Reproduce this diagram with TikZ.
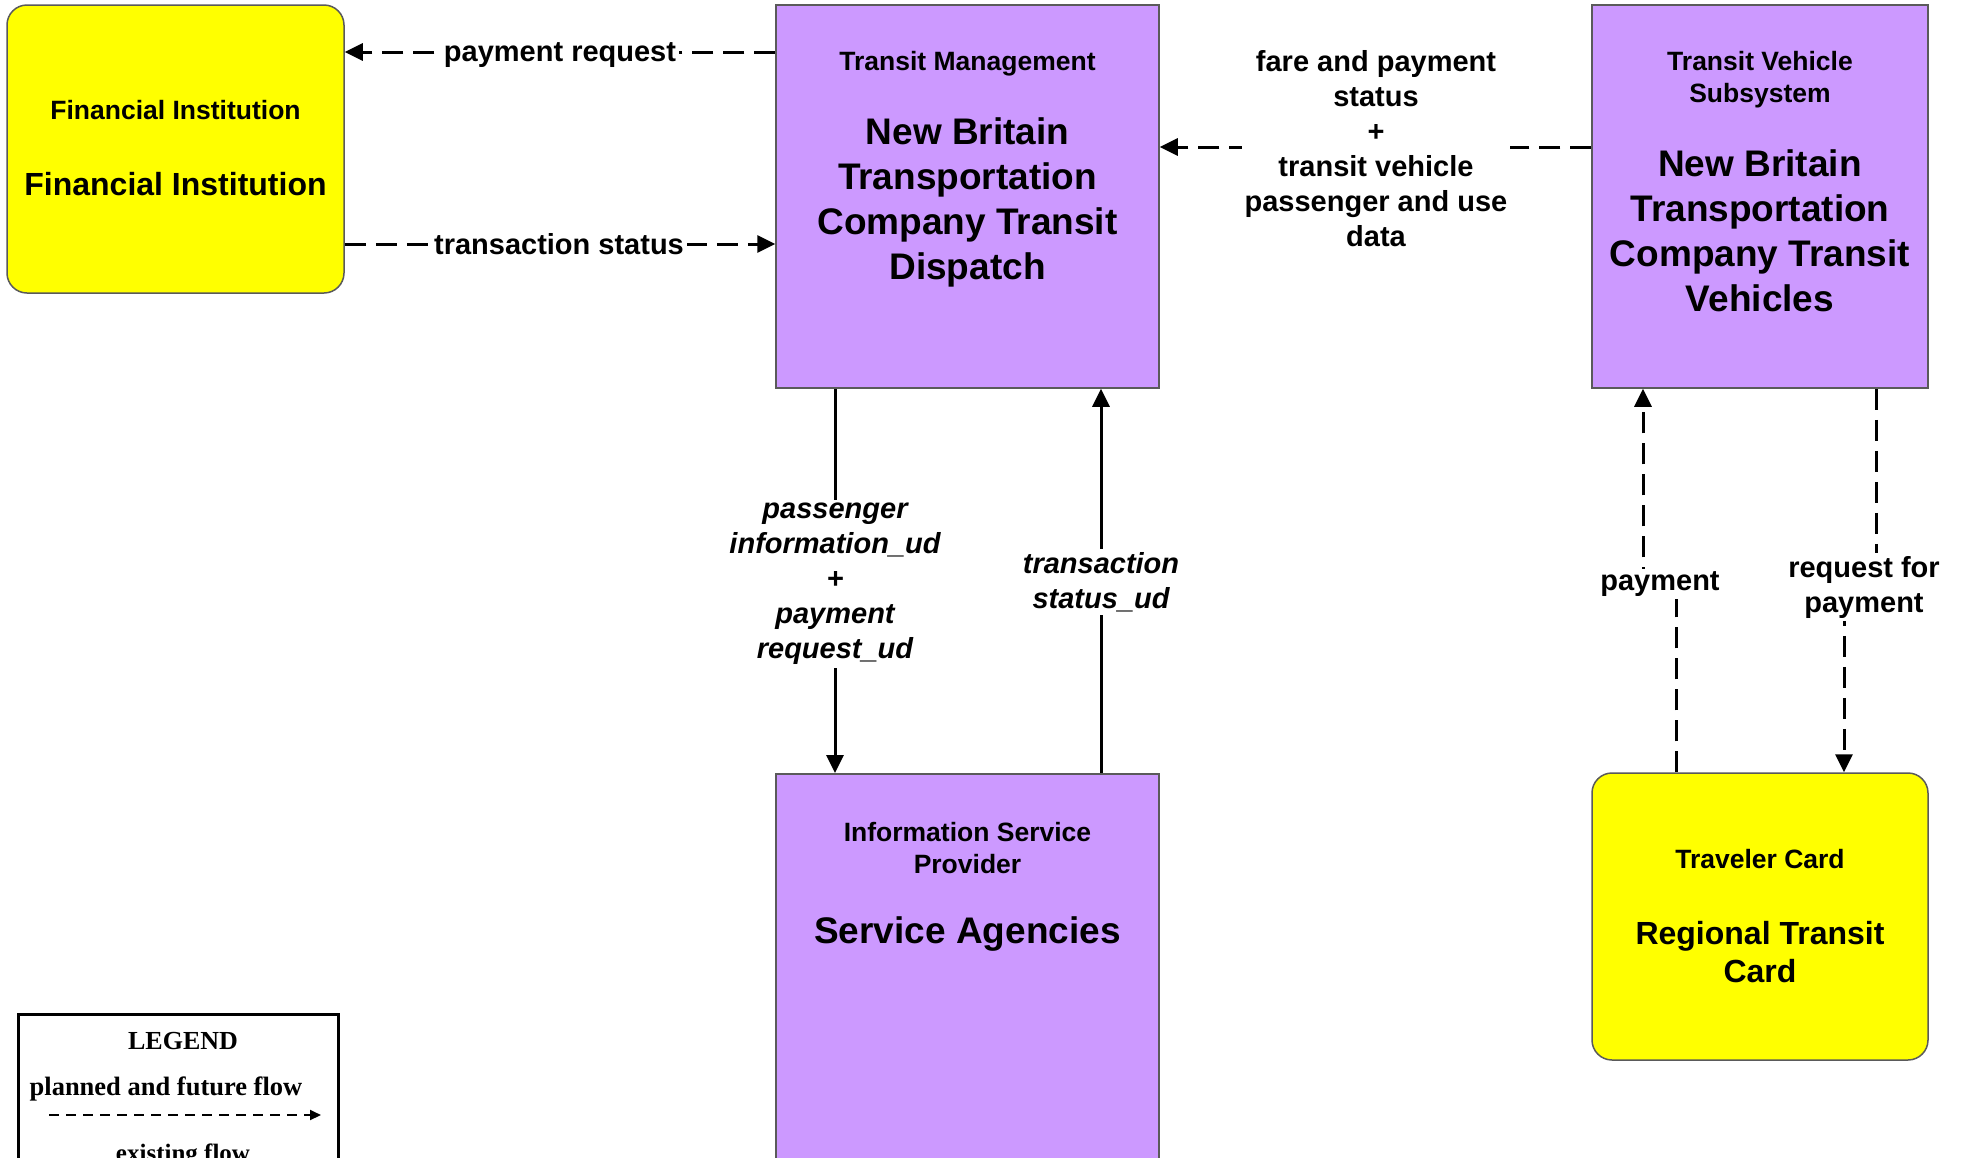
\documentclass[tikz,border=0pt]{standalone}
\usepackage{fontspec}
\setmainfont{Liberation Sans}
\newfontfamily\seriffont{Liberation Serif}
\usetikzlibrary{arrows.meta}
\pgfdeclarelayer{bg}
\pgfsetlayers{bg,main}
\definecolor{purp}{RGB}{204,153,255}
\definecolor{yel}{RGB}{255,255,0}
\definecolor{edgegrey}{RGB}{90,90,90}
\tikzset{
  purpbox/.style={draw=edgegrey, line width=1.5pt, fill=purp, rectangle, inner sep=0pt},
  yelbox/.style={draw=edgegrey, line width=1.5pt, fill=yel, rectangle, rounded corners=20pt, inner sep=0pt},
  smalltxt/.style={font=\bfseries\fontsize{26.5}{32}\selectfont, align=center, inner sep=0pt},
  bigtxt/.style={font=\bfseries\fontsize{37}{45}\selectfont, align=center, inner sep=0pt},
  ybigtxt/.style={font=\bfseries\fontsize{32}{38}\selectfont, align=center, inner sep=0pt},
  flowlbl/.style={font=\bfseries\fontsize{29}{35}\selectfont, align=center, fill=white, inner sep=3pt},
  flowit/.style={flowlbl, font=\bfseries\itshape\fontsize{29}{35}\selectfont},
  planned/.style={line width=3pt, dash pattern=on 21pt off 10pt, -{Triangle[length=18pt,width=17pt]}},
  existing/.style={line width=3pt, -{Triangle[length=18pt,width=17pt]}},
  legtxt/.style={font=\seriffont\bfseries\fontsize{25}{30}\selectfont, inner sep=0pt},
}
\begin{document}
\begin{tikzpicture}[x=1pt,y=-1pt]
\useasboundingbox (0,0) rectangle (1963,1157);

% boxes
\node[yelbox, minimum width=337, minimum height=288] (fi) at (175.5,149) {};
\node[purpbox, minimum width=383, minimum height=383] (tm) at (967.5,196.5) {};
\node[purpbox, minimum width=336, minimum height=383] (tv) at (1760,196.5) {};
\node[purpbox, minimum width=383, minimum height=400, anchor=north] (isp) at (967.5,773) {};
\node[yelbox, minimum width=336, minimum height=287] (tc) at (1760,916.5) {};

% box texts
\node[smalltxt] (fiS) at (175.5,110) {Financial Institution};
\node[ybigtxt] (fiB) at (175.5,184) {Financial Institution};
\node[smalltxt] (tmS) at (967.5,64) {Transit Management};
\node[bigtxt] (tmB) at (967.5,202) {New Britain\\Transportation\\Company Transit\\Dispatch};
\node[smalltxt] (tvS) at (1760,80) {Transit Vehicle\\Subsystem};
\node[bigtxt] (tvB) at (1760,231) {New Britain\\Transportation\\Company Transit\\Vehicles};
\node[smalltxt] (ispS) at (967.5,848) {Information Service\\Provider};
\node[bigtxt] (ispB) at (967.5,934) {Service Agencies};
\node[smalltxt] (tcS) at (1760,859) {Traveler Card};
\node[ybigtxt] (tcB) at (1760,952) {Regional Transit\\Card};

% flow labels
\node[flowlbl] (lPR) at (560,55) {payment request};
\node[flowlbl] (lTS) at (559,244) {transaction status};
\node[flowlbl] (lFare) at (1376,149) {fare and payment\\status\\+\\transit vehicle\\passenger and use\\data};
\node[flowit] (lPI) at (835,584) {passenger\\information\_ud\\+\\payment\\request\_ud};
\node[flowit] (lTSU) at (1101,582) {transaction\\status\_ud};
\node[flowlbl] (lPay) at (1660,584) {payment};
\node[flowlbl] (lRFP) at (1864,587) {request for\\payment};

\coordinate (payLo) at (1676,584);
\coordinate (payHi) at (1643,584);
\coordinate (rfpHi) at (1876,587);
\coordinate (rfpLo) at (1844,587);
\coordinate (prY) at (560,52);
\coordinate (fareY) at (1376,147);

\begin{pgfonlayer}{bg}
\fill[white] (0,0) rectangle (1963,1157);
\draw[planned] (tm.west |- prY) -- (fi.east |- prY);
\draw[planned] (fi.east |- lTS) -- (tm.west |- lTS);
\draw[planned] (tv.west |- fareY) -- (tm.east |- fareY);
\draw[existing] (tm.south -| lPI) -- (isp.north -| lPI);
\draw[existing] (isp.north -| lTSU) -- (tm.south -| lTSU);
\draw[planned] (tc.north -| payLo) -- (payLo) -- (payHi) -- (tv.south -| payHi);
\draw[planned] (tv.south -| rfpHi) -- (rfpHi) -- (rfpLo) -- (tc.north -| rfpLo);
\end{pgfonlayer}

% legend
\node[draw=black, line width=3pt, fill=white, minimum width=320, minimum height=180, anchor=north west, inner sep=0pt] (leg) at (17,1013) {};
\node[legtxt, font=\seriffont\bfseries\fontsize{26}{30}\selectfont] (legT) at (183,1041) {LEGEND};
\node[legtxt, font=\seriffont\bfseries\fontsize{26.5}{30}\selectfont] (legP) at (166,1089) {planned and future flow};
\coordinate (legA1) at (49,1115);
\coordinate (legA2) at (321,1115);
\draw[line width=2pt, dash pattern=on 10pt off 7pt, -{Triangle[length=11pt,width=10pt]}] (legA1) -- (legA2);
\node[legtxt] (legE) at (183,1155) {existing flow};
\end{tikzpicture}
\end{document}
